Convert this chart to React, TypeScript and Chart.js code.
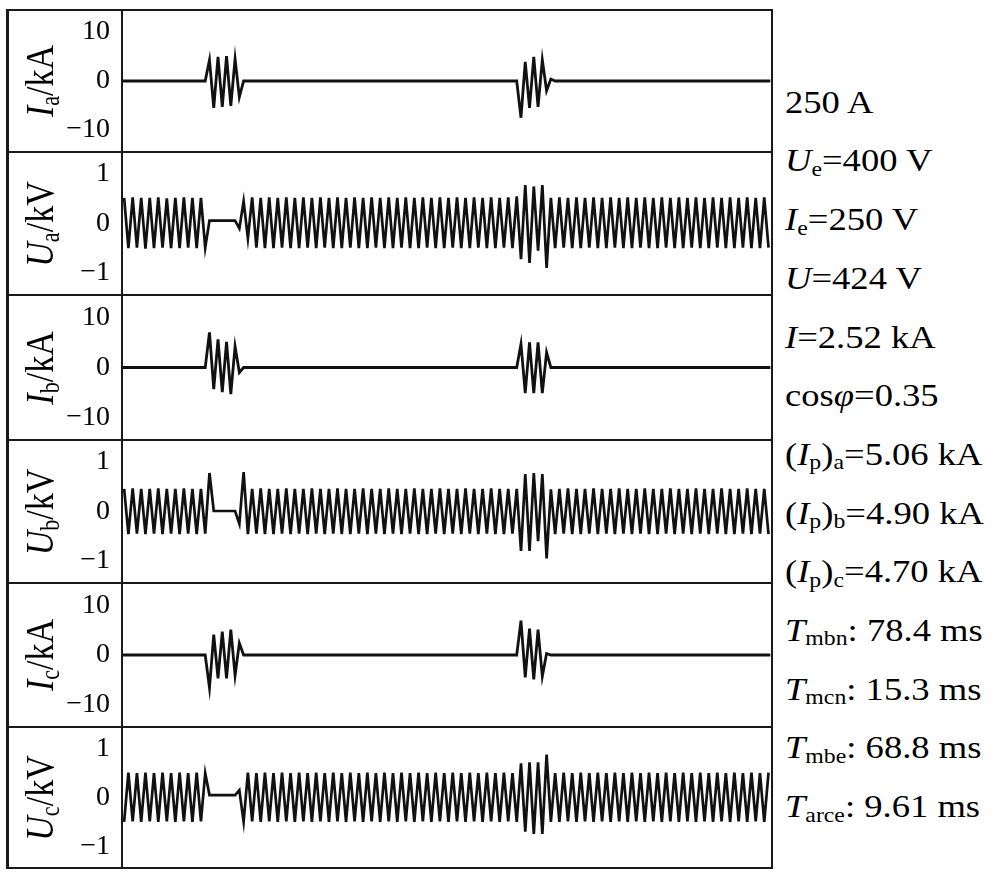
import React, { useEffect, useRef } from "react";
import { Chart, registerables } from "chart.js";

Chart.register(...registerables);

// ---------- data ----------
const HALF_CYCLE_MS = 10; // 50 Hz
const FIRST_PEAK_MS = 5;
const X_MAX_MS = 1520;

// phase voltages: successive half-cycle extremes (kV)
const uaPeaks = [
  0.52, -0.5, 0.53, -0.49, 0.52, -0.51, 0.52, -0.5, 0.53, -0.49,
  0.51, -0.5, 0.52, -0.5, 0.53, -0.49, 0.52, -0.5, 0.52, -0.49,
  0.06, 0.06, 0.06, 0.06, 0.06, 0.06, 0.06, -0.1,
  0.45, -0.3, 0.53, -0.49, 0.52, -0.5, 0.53, -0.5, 0.52, -0.49,
  0.53, -0.5, 0.52, -0.5, 0.53, -0.49, 0.52, -0.5, 0.53, -0.49,
  0.52, -0.5, 0.53, -0.5, 0.52, -0.49, 0.53, -0.5, 0.52, -0.5,
  0.53, -0.49, 0.52, -0.5, 0.53, -0.5, 0.52, -0.49, 0.53, -0.5,
  0.52, -0.5, 0.53, -0.49, 0.52, -0.5, 0.53, -0.5, 0.52, -0.49,
  0.53, -0.5, 0.52, -0.5, 0.53, -0.49, 0.52, -0.5, 0.53, -0.5,
  0.52, -0.49, 0.53, -0.5,
  0.55, -0.72, 0.78, -0.8, 0.75, -0.55, 0.78, -0.9, 0.52, -0.5,
  0.53, -0.49, 0.52, -0.5, 0.53, -0.5, 0.52, -0.49, 0.53, -0.5,
  0.52, -0.5, 0.53, -0.49, 0.52, -0.5, 0.53, -0.5, 0.52, -0.49,
  0.53, -0.5, 0.52, -0.5, 0.53, -0.49, 0.52, -0.5, 0.53, -0.5,
  0.52, -0.49, 0.53, -0.5, 0.52, -0.5, 0.53, -0.49, 0.52, -0.5,
  0.53, -0.5, 0.52, -0.49, 0.53, -0.5, 0.52, -0.5, 0.53, -0.49,
];

const ubPeaks = [
  0.46, -0.46, 0.47, -0.45, 0.46, -0.46, 0.46, -0.45, 0.47, -0.46,
  0.46, -0.45, 0.46, -0.46, 0.47, -0.45, 0.46, -0.46, 0.46, -0.45,
  0.78, 0.01, 0.01, 0.01, 0.01, 0.01, 0.01, -0.25,
  0.8, -0.46, 0.46, -0.45, 0.47, -0.46, 0.46, -0.46, 0.46, -0.45,
  0.47, -0.46, 0.46, -0.45, 0.46, -0.46, 0.47, -0.45, 0.46, -0.46,
  0.46, -0.45, 0.47, -0.46, 0.46, -0.46, 0.46, -0.45, 0.47, -0.46,
  0.46, -0.45, 0.46, -0.46, 0.47, -0.45, 0.46, -0.46, 0.46, -0.45,
  0.47, -0.46, 0.46, -0.46, 0.46, -0.45, 0.47, -0.46, 0.46, -0.45,
  0.46, -0.46, 0.47, -0.45, 0.46, -0.46, 0.46, -0.45, 0.47, -0.46,
  0.46, -0.46, 0.46, -0.45,
  0.46, -0.8, 0.76, -0.8, 0.78, -0.6, 0.76, -0.95, 0.45, -0.46,
  0.46, -0.45, 0.47, -0.46, 0.46, -0.46, 0.46, -0.45, 0.47, -0.46,
  0.46, -0.45, 0.46, -0.46, 0.47, -0.45, 0.46, -0.46, 0.46, -0.45,
  0.47, -0.46, 0.46, -0.46, 0.46, -0.45, 0.47, -0.46, 0.46, -0.45,
  0.46, -0.46, 0.47, -0.45, 0.46, -0.46, 0.46, -0.45, 0.47, -0.46,
  0.46, -0.46, 0.46, -0.45, 0.47, -0.46, 0.46, -0.45, 0.46, -0.46,
];

const ucPeaks = [
  -0.5, 0.51, -0.49, 0.5, -0.5, 0.51, -0.49, 0.5, -0.5, 0.51,
  -0.49, 0.5, -0.5, 0.51, -0.49, 0.5, -0.5, 0.51, -0.49, 0.5,
  0.05, 0.05, 0.05, 0.05, 0.05, 0.05, 0.05, 0.15,
  -0.5, 0.51, -0.49, 0.5, -0.5, 0.51, -0.49, 0.5, -0.5, 0.51,
  -0.49, 0.5, -0.5, 0.51, -0.49, 0.5, -0.5, 0.51, -0.49, 0.5,
  -0.5, 0.51, -0.49, 0.5, -0.5, 0.51, -0.49, 0.5, -0.5, 0.51,
  -0.49, 0.5, -0.5, 0.51, -0.49, 0.5, -0.5, 0.51, -0.49, 0.5,
  -0.5, 0.51, -0.49, 0.5, -0.5, 0.51, -0.49, 0.5, -0.5, 0.51,
  -0.49, 0.5, -0.5, 0.51, -0.49, 0.5, -0.5, 0.51, -0.49, 0.5,
  -0.5, 0.51, -0.49, 0.5,
  -0.5, 0.7, -0.7, 0.72, -0.75, 0.72, -0.75, 0.88, -0.5, 0.5,
  -0.5, 0.51, -0.49, 0.5, -0.5, 0.51, -0.49, 0.5, -0.5, 0.51,
  -0.49, 0.5, -0.5, 0.51, -0.49, 0.5, -0.5, 0.51, -0.49, 0.5,
  -0.5, 0.51, -0.49, 0.5, -0.5, 0.51, -0.49, 0.5, -0.5, 0.51,
  -0.49, 0.5, -0.5, 0.51, -0.49, 0.5, -0.5, 0.51, -0.49, 0.5,
  -0.5, 0.51, -0.49, 0.5, -0.5, 0.51, -0.49, 0.5, -0.5, 0.51,
];

// phase currents (kA): half-cycle extremes during making and breaking
const makeStartMs = 205;
const breakStartMs = 935;
const iaMake = [4.3, -5.5, 4.9, -5.3, 5.1, -5.1, 4.5, -3.3];
const iaBreak = [-7.5, 3.9, -5.5, 4.9, -5.3, 4.3, -2.0, 0.4];
const ibMake = [7.0, -4.3, 5.6, -4.9, 5.1, -5.3, 4.2, -1.0];
const ibBreak = [4.7, -5.1, 5.0, -5.1, 5.0, -5.1, 3.0, 0.0];
const icMake = [-6.6, 4.1, -4.7, 4.7, -4.7, 5.1, -4.1, 2.4];
const icBreak = [6.9, -4.5, 5.3, -4.9, 5.1, -4.3, 0.3, 0.0];

const currentTicks = [-10, 0, 10];
const currentRange = [-14, 14];
const voltageTicks = [-1, 0, 1];
const voltageRange = [-1.4, 1.4];

const panelTitles = [
  { symbol: "I", sub: "a", unit: "kA" },
  { symbol: "U", sub: "a", unit: "kV" },
  { symbol: "I", sub: "b", unit: "kA" },
  { symbol: "U", sub: "b", unit: "kV" },
  { symbol: "I", sub: "c", unit: "kA" },
  { symbol: "U", sub: "c", unit: "kV" },
];

// ---------- helpers ----------
function halfCyclePoints(values: number[]) {
  return values.map((y, k) => ({ x: FIRST_PEAK_MS + k * HALF_CYCLE_MS, y }));
}

function currentPoints(make: number[], brk: number[]) {
  const pts: { x: number; y: number }[] = [
    { x: 0, y: 0 },
    { x: makeStartMs - HALF_CYCLE_MS, y: 0 },
  ];
  make.forEach((y, i) => pts.push({ x: makeStartMs + i * HALF_CYCLE_MS, y }));
  pts.push({ x: makeStartMs + make.length * HALF_CYCLE_MS, y: 0 });
  pts.push({ x: breakStartMs - HALF_CYCLE_MS, y: 0 });
  brk.forEach((y, i) => pts.push({ x: breakStartMs + i * HALF_CYCLE_MS, y }));
  pts.push({ x: breakStartMs + brk.length * HALF_CYCLE_MS, y: 0 });
  pts.push({ x: X_MAX_MS, y: 0 });
  return pts;
}

const panels = [
  { points: currentPoints(iaMake, iaBreak), ticks: currentTicks, range: currentRange, width: 2.8 },
  { points: halfCyclePoints(uaPeaks), ticks: voltageTicks, range: voltageRange, width: 2.7 },
  { points: currentPoints(ibMake, ibBreak), ticks: currentTicks, range: currentRange, width: 2.8 },
  { points: halfCyclePoints(ubPeaks), ticks: voltageTicks, range: voltageRange, width: 2.7 },
  { points: currentPoints(icMake, icBreak), ticks: currentTicks, range: currentRange, width: 2.8 },
  { points: halfCyclePoints(ucPeaks), ticks: voltageTicks, range: voltageRange, width: 2.7 },
];

// ---------- layout ----------
const BOUNDS = [10, 152, 295, 440, 583, 727, 868];
const FRAME_LEFT = 7;
const FRAME_RIGHT = 772;
const PLOT_LEFT = 122;
const SERIF = "'Liberation Serif', 'Times New Roman', serif";
const TICK_FONT_SIZE = 28;

function Panel({ index }: { index: number }) {
  const ref = useRef<HTMLCanvasElement>(null);
  const p = panels[index];
  const top = BOUNDS[index] + 1;
  const height = BOUNDS[index + 1] - BOUNDS[index] - 2;
  const left = FRAME_LEFT + 2;
  const width = FRAME_RIGHT - left;

  useEffect(() => {
    if (!ref.current) return;
    let alive = true;
    const chart = new Chart(ref.current, {
      type: "line",
      data: {
        datasets: [
          {
            data: p.points,
            borderColor: "#111",
            borderWidth: p.width,
            pointRadius: 0,
            tension: 0,
            fill: false,
          },
        ],
      },
      options: {
        animation: false,
        responsive: false,
        maintainAspectRatio: false,
        events: [],
        layout: { padding: 0 },
        plugins: { legend: { display: false }, tooltip: { enabled: false } },
        scales: {
          x: { type: "linear", min: 0, max: X_MAX_MS, display: false },
          y: {
            type: "linear",
            min: p.range[0],
            max: p.range[1],
            afterBuildTicks: (s: any) => {
              s.ticks = p.ticks.map((v) => ({ value: v }));
            },
            afterFit: (s: any) => {
              s.width = PLOT_LEFT - left;
              s.paddingTop = 0;
              s.paddingBottom = 0;
            },
            grid: { display: false, drawTicks: false },
            border: { display: false },
            ticks: {
              padding: 12,
              color: "#000",
              font: { family: SERIF, size: TICK_FONT_SIZE },
              callback: (v: any) => (Number(v) < 0 ? "\u2212" + Math.abs(Number(v)) : String(v)),
            },
          },
        },
      },
    });
    const fonts: any = (document as any).fonts;
    if (fonts && fonts.load) {
      fonts
        .load(`${TICK_FONT_SIZE}px "Liberation Serif"`, "0123456789\u2212")
        .then(() => {
          if (alive) chart.update();
        })
        .catch(() => {});
    }
    return () => {
      alive = false;
      chart.destroy();
    };
  }, []);

  const t = panelTitles[index];
  const cy = (BOUNDS[index] + BOUNDS[index + 1]) / 2;
  const titleW = 140;
  return (
    <>
      <canvas
        ref={ref}
        width={width}
        height={height}
        style={{ position: "absolute", left, top, width, height }}
      />
      <div
        style={{
          position: "absolute",
          left: 40 - titleW / 2,
          top: cy - 20,
          width: titleW,
          height: 40,
          lineHeight: "40px",
          textAlign: "center",
          fontFamily: SERIF,
          fontSize: 34,
          color: "#000",
          transform: "rotate(-90deg) scaleY(1.2)",
          whiteSpace: "nowrap",
        }}
      >
        <i>{t.symbol}</i>
        <span style={{ fontSize: "0.65em", position: "relative", top: "0.22em" }}>{t.sub}</span>/{t.unit}
      </div>
    </>
  );
}

const subStyle = { fontSize: "0.65em", position: "relative", top: "0.22em", lineHeight: 0 } as const;

const infoLines = [
  <>250 A</>,
  <><i>U</i><span style={subStyle}>e</span>=400 V</>,
  <><i>I</i><span style={subStyle}>e</span>=250 V</>,
  <><i>U</i>=424 V</>,
  <><i>I</i>=2.52 kA</>,
  <>cos<i>φ</i>=0.35</>,
  <>(<i>I</i><span style={subStyle}>p</span>)<span style={subStyle}>a</span>=5.06 kA</>,
  <>(<i>I</i><span style={subStyle}>p</span>)<span style={subStyle}>b</span>=4.90 kA</>,
  <>(<i>I</i><span style={subStyle}>p</span>)<span style={subStyle}>c</span>=4.70 kA</>,
  <><i>T</i><span style={subStyle}>mbn</span>: 78.4 ms</>,
  <><i>T</i><span style={subStyle}>mcn</span>: 15.3 ms</>,
  <><i>T</i><span style={subStyle}>mbe</span>: 68.8 ms</>,
  <><i>T</i><span style={subStyle}>arce</span>: 9.61 ms</>,
];

const INFO_TOP = 73.7;
const INFO_STEP = 58.7;

export default function App() {
  const line = (key: string, style: React.CSSProperties) => (
    <div key={key} style={{ position: "absolute", background: "#1a1a1a", ...style }} />
  );
  return (
    <div
      style={{
        position: "absolute",
        left: 0,
        top: 0,
        width: 1000,
        height: 890,
        background: "#fff",
        overflow: "hidden",
      }}
    >
      {panels.map((_, i) => (
        <Panel key={i} index={i} />
      ))}
      {line("fl", { left: FRAME_LEFT - 1, top: BOUNDS[0] - 1, width: 2.5, height: BOUNDS[6] - BOUNDS[0] + 2 })}
      {line("fr", { left: FRAME_RIGHT - 1, top: BOUNDS[0] - 1, width: 2, height: BOUNDS[6] - BOUNDS[0] + 2 })}
      {line("pl", { left: PLOT_LEFT - 0.75, top: BOUNDS[0], width: 1.5, height: BOUNDS[6] - BOUNDS[0] })}
      {BOUNDS.map((b, i) =>
        line("h" + i, { left: FRAME_LEFT - 1, top: b - 1.25, width: FRAME_RIGHT - FRAME_LEFT + 2, height: 2.5 })
      )}
      {infoLines.map((l, i) => (
        <div
          key={i}
          style={{
            position: "absolute",
            left: 785,
            top: INFO_TOP + i * INFO_STEP,
            height: INFO_STEP,
            fontFamily: SERIF,
            fontSize: 31,
            lineHeight: INFO_STEP + "px",
            color: "#000",
            whiteSpace: "nowrap",
            transform: "scaleX(1.18)",
            transformOrigin: "left top",
          }}
        >
          {l}
        </div>
      ))}
    </div>
  );
}
